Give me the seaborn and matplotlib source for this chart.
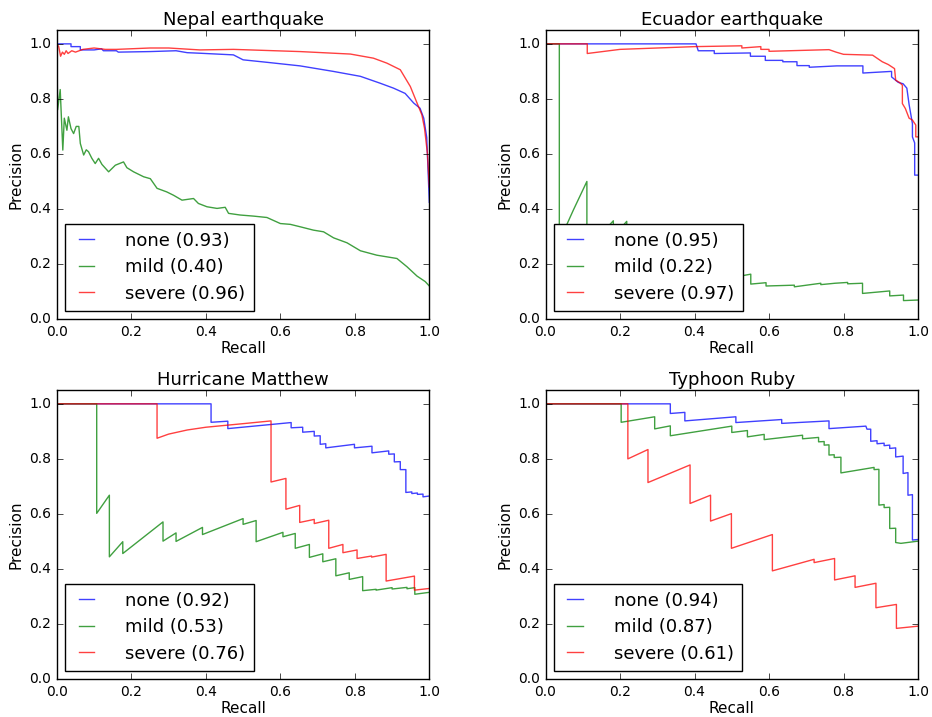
import matplotlib
matplotlib.use('Agg')
import matplotlib.pyplot as plt
import seaborn as sns

# Data: precision-recall curves
classes = ['none', 'mild', 'severe']
titles = ['Nepal earthquake', 'Ecuador earthquake', 'Hurricane Matthew', 'Typhoon Ruby']
avg_precision = [[0.93, 0.40, 0.96], [0.95, 0.22, 0.97], [0.92, 0.53, 0.76], [0.94, 0.87, 0.61]]

nepal_none_r = [0, 0.038, 0.038, 0.063, 0.063, 0.1, 0.12, 0.125, 0.16, 0.165, 0.25, 0.32, 0.35, 0.384,
                0.474, 0.5, 0.564, 0.653, 0.742, 0.815, 0.868, 0.904, 0.935, 0.958, 0.975, 0.985, 0.993, 1.0]
nepal_none_p = [1.0, 1.0, 0.99, 0.99, 0.978, 0.978, 0.982, 0.975, 0.975, 0.97, 0.972, 0.975, 0.968, 0.966,
                0.96, 0.942, 0.933, 0.92, 0.90, 0.882, 0.857, 0.839, 0.82, 0.785, 0.766, 0.73, 0.66, 0.424]
nepal_mild_r = [0, 0.002, 0.009, 0.016, 0.02, 0.027, 0.031, 0.038, 0.045, 0.052, 0.059, 0.063, 0.072, 0.079,
                0.085, 0.094, 0.103, 0.112, 0.121, 0.139, 0.157, 0.179, 0.188, 0.206, 0.233, 0.251, 0.269,
                0.295, 0.313, 0.336, 0.367, 0.380, 0.403, 0.43, 0.452, 0.461, 0.492, 0.528, 0.564, 0.6,
                0.627, 0.654, 0.689, 0.716, 0.743, 0.779, 0.815, 0.859, 0.913, 0.94, 0.967, 0.989, 1.0]
nepal_mild_p = [1.0, 0.76, 0.834, 0.614, 0.73, 0.686, 0.735, 0.692, 0.674, 0.70, 0.70, 0.638, 0.596, 0.615,
                0.608, 0.584, 0.565, 0.584, 0.562, 0.535, 0.559, 0.571, 0.55, 0.535, 0.517, 0.51, 0.475,
                0.462, 0.45, 0.432, 0.438, 0.42, 0.408, 0.402, 0.406, 0.384, 0.378, 0.374, 0.369, 0.347,
                0.344, 0.335, 0.323, 0.317, 0.295, 0.277, 0.248, 0.232, 0.22, 0.19, 0.156, 0.136, 0.12]
nepal_severe_r = [0, 0.005, 0.01, 0.015, 0.02, 0.025, 0.03, 0.04, 0.05, 0.07, 0.1, 0.13, 0.16, 0.25, 0.3,
                  0.384, 0.474, 0.653, 0.788, 0.85, 0.886, 0.922, 0.949, 0.967, 0.98, 0.987, 0.995, 1.0]
nepal_severe_p = [1.0, 0.99, 0.955, 0.97, 0.962, 0.975, 0.965, 0.975, 0.97, 0.98, 0.985, 0.98, 0.98, 0.985,
                  0.985, 0.978, 0.98, 0.972, 0.963, 0.948, 0.93, 0.906, 0.845, 0.785, 0.742, 0.694, 0.6, 0.48]

ecuador_none_r = [0, 0.404, 0.41, 0.453, 0.453, 0.55, 0.55, 0.59, 0.59, 0.637, 0.637, 0.675, 0.675, 0.708,
                  0.708, 0.782, 0.84, 0.852, 0.852, 0.929, 0.929, 0.947, 0.96, 0.97, 0.976, 0.985, 0.985,
                  0.991, 0.991, 1.0]
ecuador_none_p = [1.0, 1.0, 0.975, 0.975, 0.965, 0.967, 0.955, 0.955, 0.94, 0.94, 0.935, 0.935, 0.921, 0.921,
                  0.915, 0.92, 0.92, 0.92, 0.894, 0.90, 0.88, 0.86, 0.855, 0.839, 0.78, 0.71, 0.662, 0.64,
                  0.523, 0.523]
ecuador_mild_r = [0, 0.037, 0.037, 0.057, 0.075, 0.111, 0.111, 0.15, 0.182, 0.182, 0.218, 0.218, 0.3, 0.3,
                  0.4, 0.4, 0.522, 0.551, 0.551, 0.592, 0.592, 0.668, 0.668, 0.739, 0.739, 0.777, 0.811,
                  0.811, 0.851, 0.851, 0.924, 0.924, 0.961, 0.961, 1.0]
ecuador_mild_p = [1.0, 1.0, 0.25, 0.343, 0.397, 0.50, 0.27, 0.31, 0.357, 0.30, 0.355, 0.25, 0.27, 0.2,
                  0.22, 0.16, 0.156, 0.163, 0.127, 0.132, 0.12, 0.123, 0.117, 0.13, 0.125, 0.13, 0.133,
                  0.128, 0.13, 0.093, 0.102, 0.084, 0.087, 0.067, 0.069]
ecuador_severe_r = [0, 0.112, 0.112, 0.2, 0.3, 0.4, 0.527, 0.527, 0.578, 0.578, 0.6, 0.6, 0.761, 0.78, 0.8,
                    0.878, 0.891, 0.904, 0.92, 0.937, 0.94, 0.95, 0.958, 0.958, 0.966, 0.976, 0.985, 0.994,
                    0.994, 1.0]
ecuador_severe_p = [1.0, 1.0, 0.965, 0.98, 0.985, 0.99, 0.993, 0.985, 0.99, 0.98, 0.98, 0.973, 0.979, 0.97,
                    0.962, 0.959, 0.947, 0.935, 0.925, 0.91, 0.868, 0.86, 0.85, 0.783, 0.765, 0.73, 0.723,
                    0.705, 0.662, 0.662]

matthew_none_r = [0, 0.414, 0.414, 0.459, 0.459, 0.629, 0.629, 0.66, 0.66, 0.691, 0.691, 0.707, 0.707,
                  0.722, 0.722, 0.799, 0.799, 0.846, 0.846, 0.891, 0.891, 0.906, 0.906, 0.922, 0.922, 0.937,
                  0.937, 0.953, 0.953, 0.968, 0.968, 0.983, 0.983, 1.0]
matthew_none_p = [1.0, 1.0, 0.933, 0.937, 0.91, 0.932, 0.913, 0.915, 0.897, 0.90, 0.883, 0.884, 0.853,
                  0.855, 0.84, 0.853, 0.84, 0.846, 0.822, 0.829, 0.817, 0.818, 0.789, 0.79, 0.761, 0.761,
                  0.678, 0.68, 0.674, 0.676, 0.671, 0.672, 0.662, 0.665]
matthew_mild_r = [0, 0.107, 0.107, 0.141, 0.141, 0.177, 0.177, 0.285, 0.285, 0.32, 0.32, 0.391, 0.391, 0.5,
                  0.5, 0.535, 0.535, 0.607, 0.607, 0.64, 0.64, 0.678, 0.678, 0.714, 0.714, 0.749, 0.749,
                  0.785, 0.785, 0.821, 0.821, 0.857, 0.857, 0.9, 0.9, 0.94, 0.94, 0.961, 0.961, 1.0]
matthew_mild_p = [1.0, 1.0, 0.602, 0.668, 0.444, 0.499, 0.456, 0.571, 0.501, 0.531, 0.50, 0.551, 0.525,
                  0.583, 0.562, 0.576, 0.499, 0.533, 0.517, 0.529, 0.475, 0.489, 0.442, 0.455, 0.426, 0.437,
                  0.375, 0.386, 0.362, 0.372, 0.321, 0.326, 0.323, 0.332, 0.327, 0.333, 0.328, 0.332,
                  0.308, 0.315]
matthew_severe_r = [0, 0.269, 0.269, 0.3, 0.35, 0.4, 0.5, 0.575, 0.575, 0.615, 0.615, 0.652, 0.652, 0.691,
                    0.691, 0.73, 0.73, 0.768, 0.768, 0.806, 0.806, 0.845, 0.845, 0.884, 0.884, 0.96, 0.96, 1.0]
matthew_severe_p = [1.0, 1.0, 0.875, 0.89, 0.905, 0.915, 0.928, 0.938, 0.716, 0.729, 0.617, 0.631, 0.569,
                    0.58, 0.565, 0.577, 0.475, 0.489, 0.459, 0.469, 0.438, 0.447, 0.443, 0.453, 0.356,
                    0.374, 0.323, 0.329]

ruby_none_r = [0, 0.335, 0.335, 0.374, 0.374, 0.511, 0.511, 0.634, 0.634, 0.761, 0.761, 0.86, 0.863, 0.873,
               0.873, 0.89, 0.89, 0.909, 0.909, 0.924, 0.924, 0.94, 0.94, 0.96, 0.96, 0.973, 0.973, 0.985,
               0.985, 1.0]
ruby_none_p = [1.0, 1.0, 0.965, 0.969, 0.938, 0.953, 0.932, 0.943, 0.929, 0.938, 0.91, 0.919, 0.908, 0.908,
               0.864, 0.866, 0.855, 0.857, 0.848, 0.85, 0.838, 0.84, 0.807, 0.81, 0.747, 0.75, 0.668, 0.67,
               0.505, 0.507]
ruby_mild_r = [0, 0.203, 0.203, 0.293, 0.293, 0.335, 0.335, 0.50, 0.50, 0.542, 0.542, 0.587, 0.587, 0.69,
               0.69, 0.733, 0.733, 0.748, 0.748, 0.761, 0.761, 0.775, 0.775, 0.793, 0.793, 0.882, 0.882,
               0.895, 0.895, 0.909, 0.909, 0.924, 0.924, 0.94, 0.94, 0.954, 1.0]
ruby_mild_p = [1.0, 1.0, 0.933, 0.953, 0.909, 0.92, 0.884, 0.919, 0.896, 0.903, 0.88, 0.889, 0.87, 0.886,
               0.873, 0.878, 0.862, 0.863, 0.85, 0.851, 0.814, 0.815, 0.805, 0.806, 0.749, 0.769, 0.761,
               0.762, 0.632, 0.634, 0.623, 0.624, 0.547, 0.548, 0.496, 0.493, 0.501]
ruby_severe_r = [0, 0.221, 0.221, 0.275, 0.275, 0.388, 0.388, 0.443, 0.443, 0.499, 0.499, 0.609, 0.609,
                 0.721, 0.721, 0.776, 0.776, 0.831, 0.831, 0.887, 0.887, 0.942, 0.942, 1.0]
ruby_severe_p = [1.0, 1.0, 0.80, 0.834, 0.714, 0.778, 0.638, 0.668, 0.574, 0.601, 0.475, 0.525, 0.393,
                 0.435, 0.423, 0.438, 0.36, 0.375, 0.333, 0.348, 0.259, 0.271, 0.184, 0.192]

curves = [
    [(nepal_none_r, nepal_none_p), (nepal_mild_r, nepal_mild_p), (nepal_severe_r, nepal_severe_p)],
    [(ecuador_none_r, ecuador_none_p), (ecuador_mild_r, ecuador_mild_p), (ecuador_severe_r, ecuador_severe_p)],
    [(matthew_none_r, matthew_none_p), (matthew_mild_r, matthew_mild_p), (matthew_severe_r, matthew_severe_p)],
    [(ruby_none_r, ruby_none_p), (ruby_mild_r, ruby_mild_p), (ruby_severe_r, ruby_severe_p)],
]
colors = ['b', 'g', 'r']

# Old-school matplotlib look
plt.style.use('classic')
plt.rcParams['font.family'] = ['DejaVu Sans']
plt.rcParams['xtick.labelsize'] = 10
plt.rcParams['ytick.labelsize'] = 10

fig, axes = plt.subplots(2, 2, figsize=(9.32, 7.17), dpi=100)
fig.patch.set_facecolor('white')
plt.subplots_adjust(left=0.061, right=0.985, top=0.958, bottom=0.053, wspace=0.312, hspace=0.246)

for ax, title, dis_curves, aps in zip(axes.flat, titles, curves, avg_precision):
    ax.set_facecolor('white')
    for cls, color, (rec, prec), ap in zip(classes, colors, dis_curves, aps):
        sns.lineplot(x=rec, y=prec, sort=False, estimator=None, color=color, alpha=0.75,
                     linewidth=1, label='%s (%.2f)' % (cls, ap), ax=ax)
    ax.set_xlim(0, 1)
    ax.set_ylim(0, 1.05)
    ax.set_xticks([0, 0.2, 0.4, 0.6, 0.8, 1.0])
    ax.set_yticks([0, 0.2, 0.4, 0.6, 0.8, 1.0])
    ax.set_title(title, fontsize=13, pad=4)
    ax.set_xlabel('Recall', fontsize=11, labelpad=2)
    ax.set_ylabel('Precision', fontsize=11, labelpad=4)
    ax.legend(loc='lower left', fontsize=13, handlelength=1.45, handletextpad=1.45,
              labelspacing=0.47, borderpad=0.45, borderaxespad=0.45, numpoints=2,
              fancybox=False, framealpha=1.0, edgecolor='black')

plt.savefig('out.png', dpi=100, facecolor='white')
plt.close()
